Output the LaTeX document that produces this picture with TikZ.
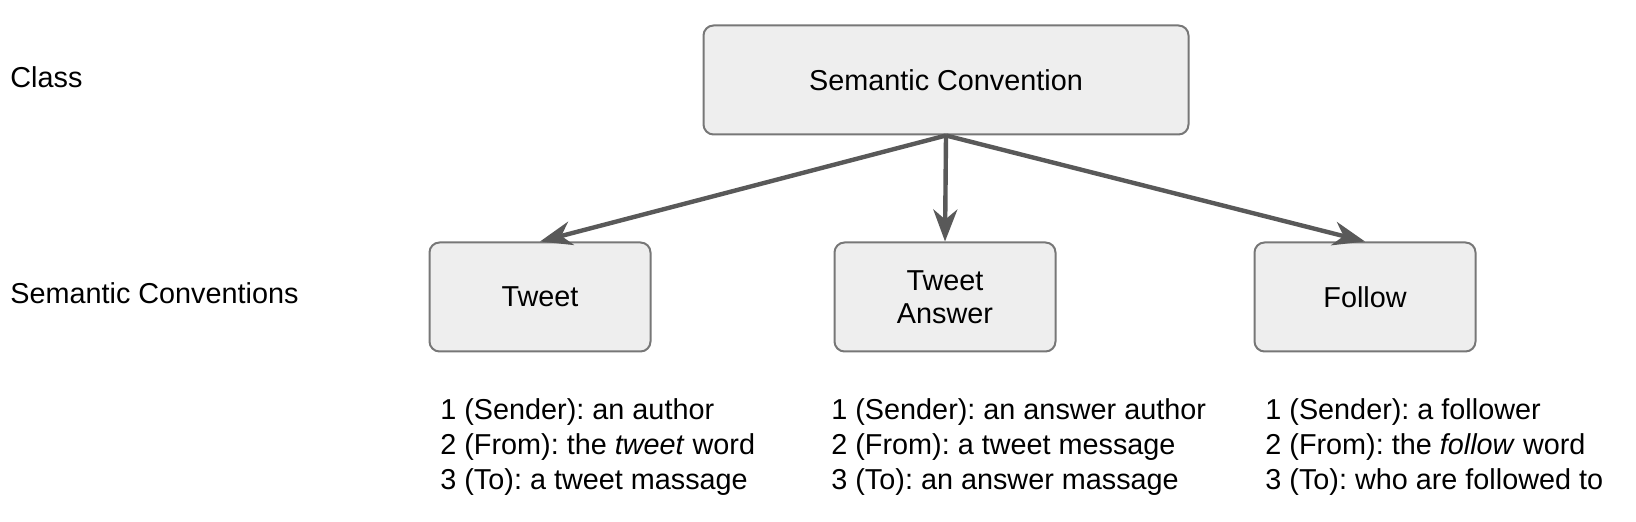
\documentclass[tikz,border=0pt]{standalone}
\usepackage{fontspec}
\setmainfont{Liberation Sans}
\usetikzlibrary{arrows.meta}

\definecolor{boxfill}{HTML}{EEEEEE}
\definecolor{boxline}{HTML}{777777}
\definecolor{arrline}{HTML}{595959}

\begin{document}
\frenchspacing
\begin{tikzpicture}[
      x=0.5pt, y=-0.5pt,
      box/.style={draw=boxline, fill=boxfill, line width=1pt, rounded corners=5pt,
                  minimum width=110.5pt, minimum height=54.5pt, inner sep=0pt,
                  align=center, font=\fontsize{14.4}{16.5}\selectfont},
      lbl/.style={anchor=west, inner sep=0pt, font=\fontsize{14.4}{17}\selectfont},
      lst/.style={anchor=west, inner sep=0pt, align=left,
                  font=\fontsize{14.4}{17.3}\selectfont},
      arr/.style={draw=arrline, line width=2.2pt,
                  -{Stealth[length=16pt, width=12pt, inset=5pt]}}]

    % page frame (pixel grid, y downwards)
    \useasboundingbox (0,0) rectangle (1636,522);

    % Row labels
    \node[lbl] (cls) at (10,77) {Class};
    \node[lbl] (conv) at (10,293) {Semantic Conventions};

    % Class box
    \node[box, minimum width=242.5pt] (sem) at (946,80) {Semantic Convention};

    % Semantic conventions
    \node[box] (tweet) at (540,297) {Tweet};
    \node[box] (answer) at (945,297) {Tweet\\Answer};
    \node[box] (follow) at (1365,297) {Follow};

    % Arrows
    \draw[arr] (sem.south) -- (tweet.north);
    \draw[arr] (sem.south) -- (answer.north);
    \draw[arr] (sem.south) -- (follow.north);

    % Role descriptions
    \node[lst] (tweetroles) at (440,447) {1 (Sender): an author\\
        2 (From): the \textit{tweet} word\\3 (To): a tweet massage};
    \node[lst] (answerroles) at (831,447) {1 (Sender): an answer author\\
        2 (From): a tweet message\\3 (To): an answer massage};
    \node[lst] (followroles) at (1265,447) {1 (Sender): a follower\\
        2 (From): the \textit{follow} word\\3 (To): who are followed to};

\end{tikzpicture}
\end{document}
